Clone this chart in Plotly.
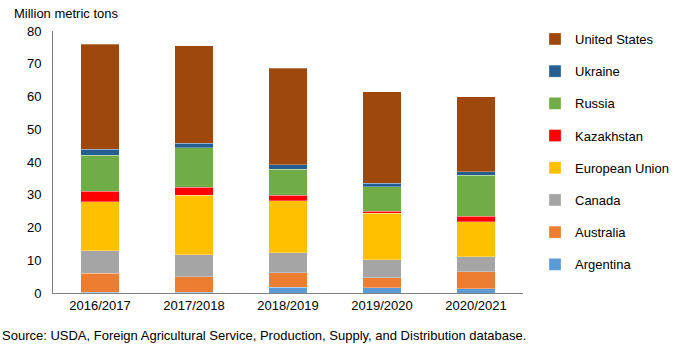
import plotly.graph_objects as go

years = ["2016/2017", "2017/2018", "2018/2019", "2019/2020", "2020/2021"]
argentina = [0.2, 0.3, 1.7, 1.6, 1.3]
australia = [5.8, 4.7, 4.5, 3.0, 5.2]
canada = [6.9, 6.7, 6.1, 5.6, 4.5]
eu = [14.9, 18.1, 15.9, 14.2, 10.7]
kazakhstan = [3.3, 2.5, 1.6, 0.6, 1.7]
russia = [11.0, 12.1, 8.0, 7.4, 12.5]
ukraine = [1.8, 1.3, 1.4, 1.1, 1.1]
us = [32.1, 29.8, 29.4, 28.0, 22.9]

series = [
    ("Argentina", argentina, "#5B9BD5"),
    ("Australia", australia, "#ED7D31"),
    ("Canada", canada, "#A5A5A5"),
    ("European Union", eu, "#FFC000"),
    ("Kazakhstan", kazakhstan, "#FF0000"),
    ("Russia", russia, "#70AD47"),
    ("Ukraine", ukraine, "#255E91"),
    ("United States", us, "#9E480E"),
]

FONT = "Liberation Sans, Arial, sans-serif"

fig = go.Figure()
n = len(series)
for i, (name, vals, col) in enumerate(series):
    fig.add_trace(go.Bar(
        x=years, y=vals, name=name, legendgroup=name, legendrank=(n - i) * 10,
        marker=dict(color=col, line=dict(color="rgba(255,255,255,0.6)", width=0.5)),
    ))

fig.update_layout(
    width=680, height=352,
    barmode="stack", bargap=0.59,
    margin=dict(l=53, r=138, t=31, b=59),
    paper_bgcolor="white", plot_bgcolor="white",
    font=dict(family=FONT, size=13, color="#000000"),
    xaxis=dict(showline=True, linecolor="#808080", linewidth=1, ticks="",
               tickfont=dict(size=13), showgrid=False),
    yaxis=dict(range=[0, 80], dtick=10, showline=True, linecolor="#808080",
               linewidth=1, showgrid=False, zeroline=False, ticks="",
               tickfont=dict(size=13), ticklabelstandoff=8),
    legend=dict(traceorder="grouped", xref="container", yref="container",
                x=535/680, y=1-24/352, xanchor="left", yanchor="top",
                maxheight=340, tracegroupgap=12.3, font=dict(size=13),
                bgcolor="rgba(0,0,0,0)"),
    annotations=[
        dict(text="Million metric tons", xref="paper", yref="paper",
             x=-43/489, y=1+18/262, xanchor="left", yanchor="middle",
             showarrow=False, font=dict(size=13)),
        dict(text="Source: USDA, Foreign Agricultural Service, Production, Supply, and Distribution database.",
             xref="paper", yref="paper", x=-55/489, y=-42/262,
             xanchor="left", yanchor="middle", showarrow=False, font=dict(size=13)),
    ],
)

fig.write_html("out.html")
